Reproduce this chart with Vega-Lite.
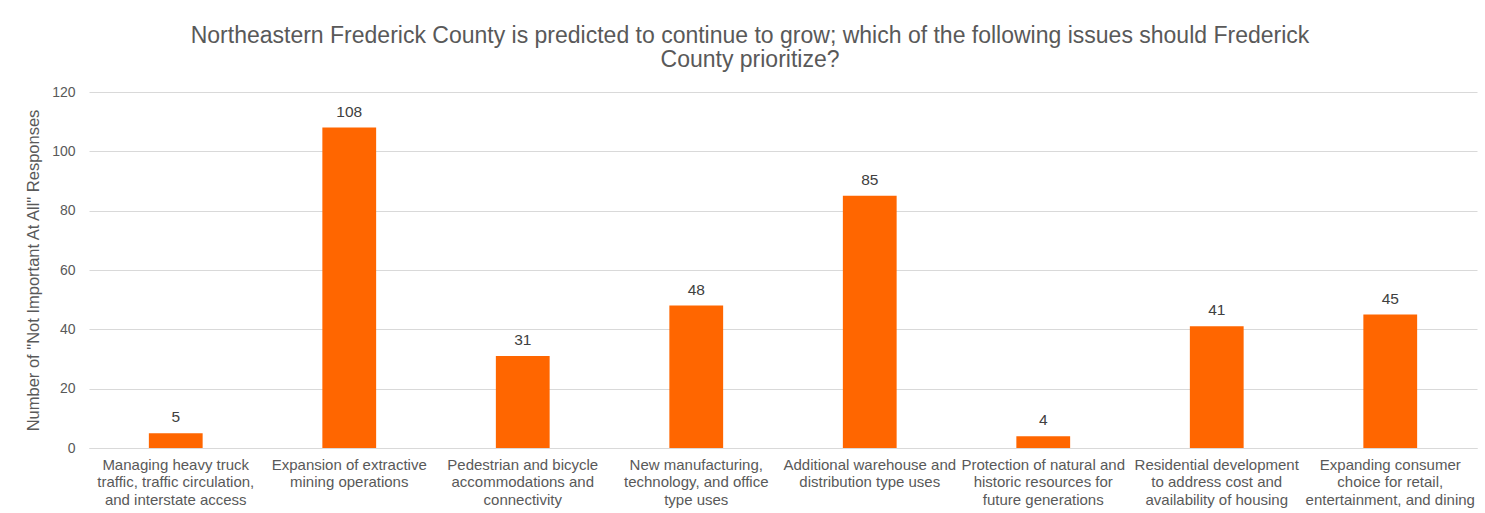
{
  "$schema": "https://vega.github.io/schema/vega-lite/v6.json",
  "width": 1388,
  "height": 356,
  "autosize": {"type": "none"},
  "padding": {"left": 89, "top": 92, "right": 8, "bottom": 65},
  "background": "white",
  "title": {
    "text": ["Northeastern Frederick County is predicted to continue to grow; which of the following issues should Frederick", "County prioritize?"],
    "anchor": "middle",
    "dx": -33,
    "offset": 13,
    "fontSize": 23,
    "font": "Liberation Sans",
    "fontWeight": "normal",
    "color": "#595959",
    "lineHeight": 24.5
  },
  "data": {
    "values": [
      {"issue": "Managing heavy truck|traffic, traffic circulation,|and interstate access", "count": 5},
      {"issue": "Expansion of extractive|mining operations", "count": 108},
      {"issue": "Pedestrian and bicycle|accommodations and|connectivity", "count": 31},
      {"issue": "New manufacturing,|technology, and office|type uses", "count": 48},
      {"issue": "Additional warehouse and|distribution type uses", "count": 85},
      {"issue": "Protection of natural and|historic resources for|future generations", "count": 4},
      {"issue": "Residential development|to address cost and|availability of housing", "count": 41},
      {"issue": "Expanding consumer|choice for retail,|entertainment, and dining", "count": 45}
    ]
  },
  "encoding": {
    "x": {
      "field": "issue",
      "type": "nominal",
      "sort": null,
      "scale": {"paddingInner": 0.69, "paddingOuter": 0.345},
      "axis": {
        "title": null,
        "labelAngle": 0,
        "labelExpr": "split(datum.label, '|')",
        "labelFontSize": 15,
        "labelColor": "#595959",
        "labelFont": "Liberation Sans",
        "labelLineHeight": 17.5,
        "labelPadding": 9,
        "labelLimit": 0,
        "labelOverlap": false,
        "labelBaseline": "top",
        "ticks": false,
        "domainColor": "#d9d9d9",
        "domainWidth": 1,
        "grid": false
      }
    },
    "y": {
      "field": "count",
      "type": "quantitative",
      "scale": {"domain": [0, 120], "nice": false},
      "axis": {
        "title": "Number of \"Not Important At All\" Responses",
        "titleFontSize": 16.5,
        "titleFont": "Liberation Sans",
        "titleFontWeight": "normal",
        "titleColor": "#595959",
        "titlePadding": 10,
        "values": [0, 20, 40, 60, 80, 100, 120],
        "labelFontSize": 14,
        "labelColor": "#595959",
        "labelFont": "Liberation Sans",
        "labelPadding": 14,
        "ticks": false,
        "domain": false,
        "gridColor": "#d9d9d9",
        "gridWidth": 1
      }
    }
  },
  "layer": [
    {"mark": {"type": "bar", "color": "#ff6600"}},
    {
      "mark": {"type": "text", "baseline": "alphabetic", "dy": -11, "fontSize": 15.5, "font": "Liberation Sans", "color": "#404040"},
      "encoding": {"text": {"field": "count", "type": "quantitative"}}
    }
  ],
  "config": {"view": {"stroke": null}, "font": "Liberation Sans"}
}
